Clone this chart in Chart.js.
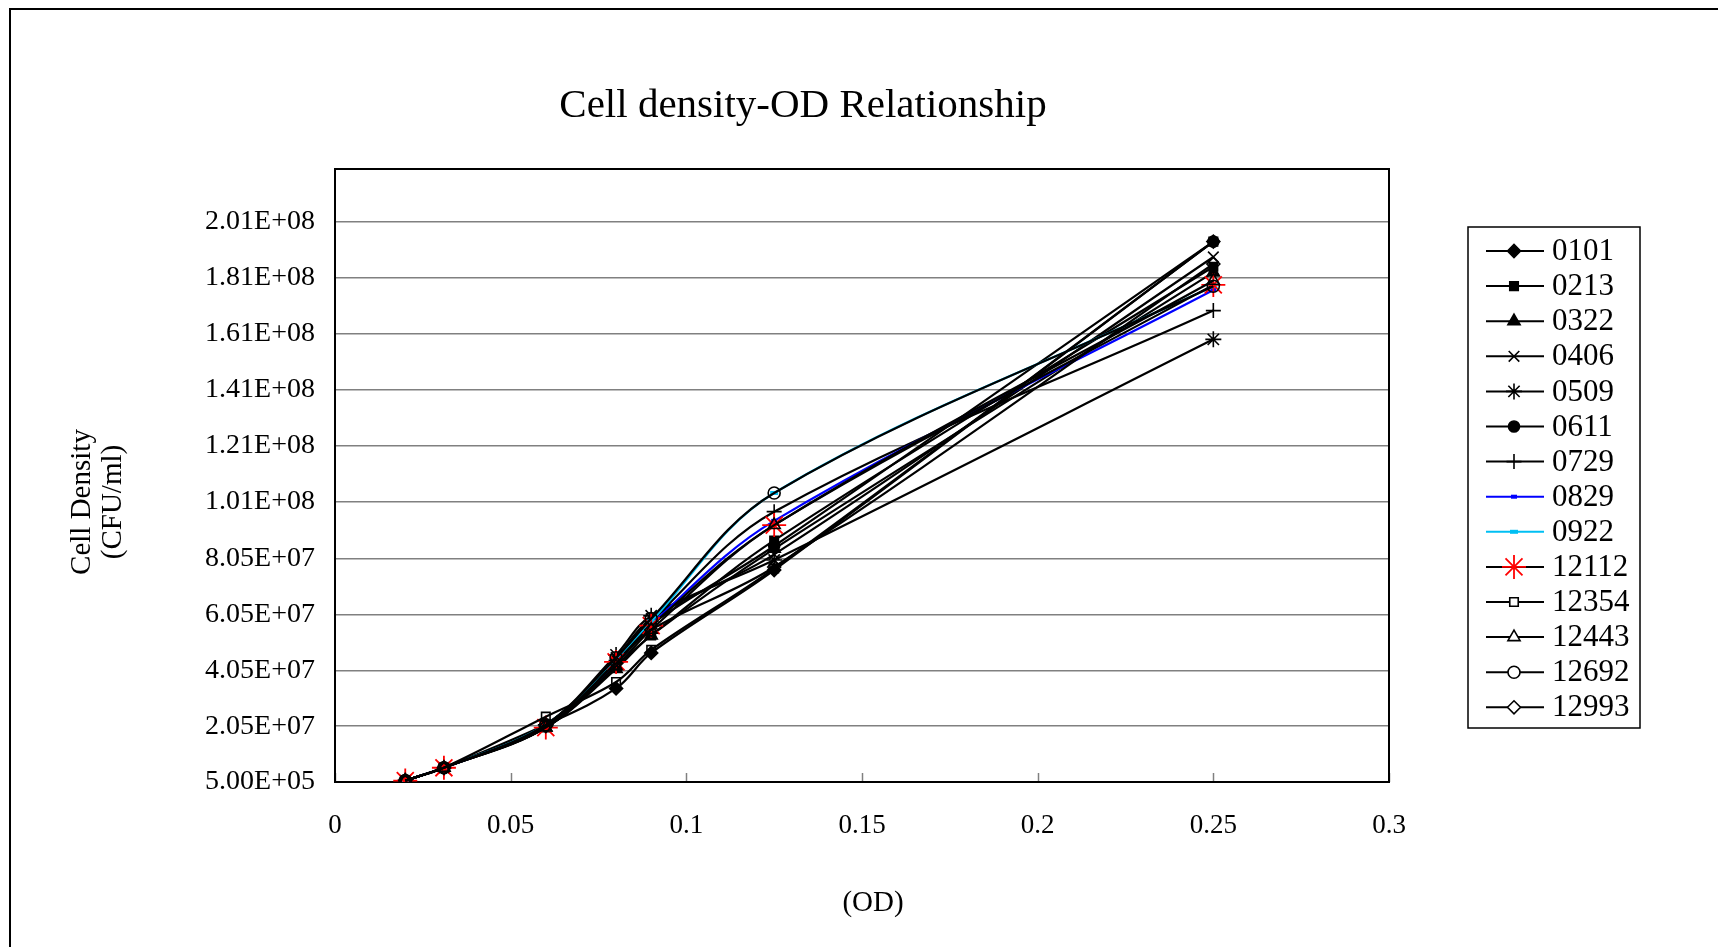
<!DOCTYPE html>
<html>
<head>
<meta charset="utf-8">
<title>Cell density-OD Relationship</title>
<script src="https://cdn.jsdelivr.net/npm/chart.js@4/dist/chart.umd.min.js"></script>
<style>
    body { margin: 0; background: #fff; }
    canvas { display: block; }
</style>
</head>
<body>
<canvas id="odChart" width="1718" height="947"></canvas>
<script>
// OD readings (x) shared by every strain
const odValues = [0.02, 0.031, 0.06, 0.08, 0.09, 0.125, 0.25];

// cell density (CFU/ml) per strain
const cfu0101 = [1.0e6, 5.6e6, 2.10e7, 3.40e7, 4.67e7, 7.64e7, 1.94e8];
const cfu0213 = [1.0e6, 5.6e6, 2.00e7, 4.20e7, 5.30e7, 8.70e7, 1.85e8];
const cfu0322 = [1.0e6, 5.6e6, 2.00e7, 4.10e7, 5.30e7, 8.40e7, 1.83e8];
const cfu0406 = [1.0e6, 5.6e6, 2.10e7, 4.50e7, 5.90e7, 8.20e7, 1.885e8];
const cfu0509 = [1.0e6, 5.6e6, 2.10e7, 4.60e7, 6.00e7, 8.00e7, 1.59e8];
const cfu0611 = [1.0e6, 5.6e6, 2.10e7, 4.40e7, 5.70e7, 8.50e7, 1.94e8];
const cfu0729 = [1.0e6, 5.6e6, 2.10e7, 4.40e7, 5.80e7, 9.73e7, 1.693e8];
const cfu0829 = [1.0e6, 5.6e6, 2.05e7, 4.30e7, 5.70e7, 9.40e7, 1.767e8];
const cfu0922 = [1.0e6, 5.6e6, 2.10e7, 4.40e7, 5.80e7, 1.04e8, 1.78e8];
const cfu12112 = [1.0e6, 5.6e6, 2.00e7, 4.35e7, 5.65e7, 9.25e7, 1.785e8];
const cfu12354 = [1.0e6, 5.6e6, 2.39e7, 3.63e7, 4.78e7, 7.70e7, 1.94e8];
const cfu12443 = [1.0e6, 5.6e6, 2.00e7, 4.20e7, 5.50e7, 9.25e7, 1.80e8];
const cfu12692 = [1.0e6, 5.6e6, 2.10e7, 4.50e7, 5.90e7, 1.04e8, 1.78e8];
const cfu12993 = [1.0e6, 5.6e6, 2.05e7, 4.30e7, 5.50e7, 7.75e7, 1.86e8];

const strainNames = ["0101", "0213", "0322", "0406", "0509", "0611", "0729",
    "0829", "0922", "12112", "12354", "12443", "12692", "12993"];
const strainValues = [cfu0101, cfu0213, cfu0322, cfu0406, cfu0509, cfu0611, cfu0729,
    cfu0829, cfu0922, cfu12112, cfu12354, cfu12443, cfu12692, cfu12993];

// axis ticks
const yTicks = [5.0e5, 2.05e7, 4.05e7, 6.05e7, 8.05e7, 1.01e8, 1.21e8, 1.41e8, 1.61e8, 1.81e8, 2.01e8];
const xTicks = [0, 0.05, 0.1, 0.15, 0.2, 0.25, 0.3];

// marker look per strain (same order as strainNames); open markers have no fill
const noFill = "rgba(0,0,0,0)";
const markerStyles = [
    { style: "rectRot", radius: 6.5, fill: "#000", stroke: "#000", line: "#000" },
    { style: "rect", radius: 6, fill: "#000", stroke: "#000", line: "#000" },
    { style: "triangle", radius: 7, fill: "#000", stroke: "#000", line: "#000" },
    { style: "crossRot", radius: 7.5, fill: "#000", stroke: "#000", line: "#000" },
    { style: "star", radius: 8, fill: "#000", stroke: "#000", line: "#000" },
    { style: "circle", radius: 5.5, fill: "#000", stroke: "#000", line: "#000" },
    { style: "cross", radius: 7.5, fill: "#000", stroke: "#000", line: "#000" },
    { style: "line", radius: 3, fill: "#0000ff", stroke: "#0000ff", line: "#0000ff", width: 4 },
    { style: "line", radius: 4, fill: "#00bff3", stroke: "#00bff3", line: "#00bff3", width: 4 },
    { style: "star", radius: 12, fill: "#ff0000", stroke: "#ff0000", line: "#000", width: 1.8 },
    { style: "rect", radius: 6, fill: noFill, stroke: "#000", line: "#000" },
    { style: "triangle", radius: 7, fill: noFill, stroke: "#000", line: "#000" },
    { style: "circle", radius: 6, fill: noFill, stroke: "#000", line: "#000" },
    { style: "rectRot", radius: 6.5, fill: noFill, stroke: "#000", line: "#000" },
];

const serif = "'Liberation Serif', 'Times New Roman', serif";

function excelExp(v) {
    var parts = v.toExponential(2).split("e");
    var sign = parts[1][0];
    var digits = parts[1].slice(1).padStart(2, "0");
    return parts[0] + "E" + sign + digits;
}

var datasets = strainNames.map(function (name, i) {
    var m = markerStyles[i];
    return {
        label: name,
        data: odValues.map(function (od, j) {
            return { x: od, y: strainValues[i][j] };
        }),
        borderColor: m.line,
        borderWidth: 2.2,
        tension: 0.35,
        pointStyle: m.style,
        pointRadius: m.radius,
        pointBackgroundColor: m.fill,
        pointBorderColor: m.stroke,
        pointBorderWidth: m.width || 1.6,
        order: -i, // later series on top, like Excel
    };
});

// frame, plot border, inner x ticks, titles and boxed legend
const excelLook = {
    id: "excelLook",
    beforeDraw: function (chart) {
        var ctx = chart.ctx;
        ctx.save();
        ctx.fillStyle = "#fff";
        ctx.fillRect(0, 0, chart.width, chart.height);
        ctx.strokeStyle = "#000";
        ctx.lineWidth = 2;
        ctx.strokeRect(10, 9, chart.width, chart.height);
        ctx.restore();
    },
    beforeDatasetsDraw: function (chart) {
        var ctx = chart.ctx;
        var a = chart.chartArea;
        var xs = chart.scales.x;
        ctx.save();
        ctx.strokeStyle = "#808080";
        ctx.lineWidth = 1.5;
        xTicks.forEach(function (t) {
            var px = Math.round(xs.getPixelForValue(t)) + 0.5;
            ctx.beginPath();
            ctx.moveTo(px, a.bottom);
            ctx.lineTo(px, a.bottom - 9);
            ctx.stroke();
        });
        ctx.strokeStyle = "#000";
        ctx.lineWidth = 2;
        ctx.strokeRect(a.left, a.top, a.right - a.left, a.bottom - a.top);
        ctx.restore();
    },
    afterDraw: function (chart) {
        var ctx = chart.ctx;
        ctx.save();
        ctx.fillStyle = "#000";
        ctx.textAlign = "center";
        ctx.textBaseline = "middle";

        ctx.font = "41px " + serif;
        ctx.fillText("Cell density-OD Relationship", 803, 106);

        ctx.font = "29px " + serif;
        ctx.fillText("(OD)", 873, 903);

        ctx.save();
        ctx.translate(82, 502);
        ctx.rotate(-Math.PI / 2);
        ctx.fillText("Cell Density", 0, 0);
        ctx.restore();
        ctx.save();
        ctx.translate(113, 502);
        ctx.rotate(-Math.PI / 2);
        ctx.fillText("(CFU/ml)", 0, 0);
        ctx.restore();

        // legend box
        ctx.strokeStyle = "#000";
        ctx.lineWidth = 1.5;
        ctx.strokeRect(1468, 227, 172, 501);
        ctx.font = "31px " + serif;
        ctx.textAlign = "left";
        strainNames.forEach(function (name, i) {
            var m = markerStyles[i];
            var y = 251 + i * 35.1;
            ctx.strokeStyle = m.line;
            ctx.lineWidth = 2;
            ctx.beginPath();
            ctx.moveTo(1486, y);
            ctx.lineTo(1544, y);
            ctx.stroke();
            ctx.fillStyle = m.fill === noFill ? "#fff" : m.fill;
            ctx.strokeStyle = m.stroke;
            ctx.lineWidth = m.width || 1.6;
            Chart.helpers.drawPoint(ctx, {
                pointStyle: m.style,
                radius: m.radius,
                rotation: 0,
                borderWidth: m.width || 1.6,
            }, 1514, y);
            ctx.fillStyle = "#000";
            ctx.fillText(name, 1552, y + 1);
        });
        ctx.restore();
    },
};

var ctx = document.getElementById("odChart").getContext("2d");
var odChart = new Chart(ctx, {
    type: "line",
    data: { datasets: datasets },
    options: {
        responsive: false,
        animation: false,
        devicePixelRatio: 1,
        layout: {
            padding: { top: 169, right: 329, left: 0, bottom: 0 },
        },
        plugins: {
            legend: { display: false },
            tooltip: { enabled: false },
        },
        scales: {
            x: {
                type: "linear",
                min: 0,
                max: 0.3,
                afterBuildTicks: function (scale) {
                    scale.ticks = xTicks.map(function (v) { return { value: v }; });
                },
                afterFit: function (scale) {
                    scale.height = 165;
                },
                grid: { display: false, drawTicks: false },
                border: { display: false },
                ticks: {
                    color: "#000",
                    padding: 28,
                    maxRotation: 0,
                    font: { family: serif, size: 27 },
                    callback: function (v) { return String(v); },
                },
            },
            y: {
                type: "linear",
                min: 5.0e5,
                max: 2.2e8,
                afterBuildTicks: function (scale) {
                    scale.ticks = yTicks.map(function (v) { return { value: v }; });
                },
                afterFit: function (scale) {
                    scale.width = 335;
                },
                grid: { color: "#808080", lineWidth: 1.5, drawTicks: false },
                border: { display: false },
                ticks: {
                    color: "#000",
                    padding: 20,
                    font: { family: serif, size: 28 },
                    callback: function (v) { return excelExp(v); },
                },
            },
        },
    },
    plugins: [excelLook],
});
</script>
</body>
</html>
